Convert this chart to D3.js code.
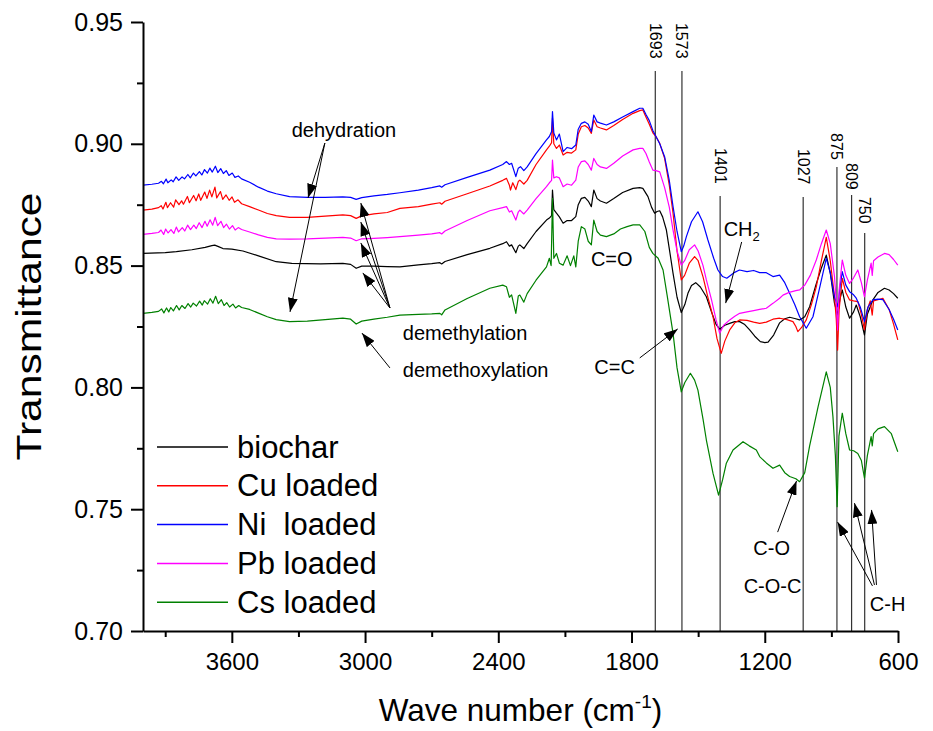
<!DOCTYPE html>
<html>
<head>
<meta charset="utf-8">
<script src="https://cdn.jsdelivr.net/npm/d3@7"></script>
<style>
  body { margin: 0; background: #fff; }
  svg text { font-family: "Liberation Sans", Arial, sans-serif; fill: #000; }
</style>
</head>
<body>
<script>
// ---- data: [wave number, transmittance] ----
const biochar = [[4000,0.8550],[3900,0.8553],[3850,0.8557],[3780,0.8565],[3720,0.8575],[3690,0.8582],[3677,0.8584],[3660,0.8578],[3640,0.8570],[3600,0.8568],[3550,0.8560],[3480,0.8540],[3400,0.8516],[3330,0.8509],[3200,0.8507],[3100,0.8509],[3065,0.8505],[3040,0.8489],[3015,0.8498],[2960,0.8498],[2900,0.8496],[2843,0.8495],[2760,0.8503],[2700,0.8508],[2663,0.8512],[2655,0.8507],[2640,0.8517],[2540,0.8545],[2438,0.8571],[2380,0.8590],[2363,0.8598],[2350,0.8580],[2340,0.8585],[2321,0.8553],[2310,0.8580],[2303,0.8585],[2285,0.8570],[2270,0.8590],[2230,0.8640],[2183,0.8687],[2170,0.8695],[2160,0.8705],[2156,0.8810],[2150,0.8730],[2138,0.8715],[2125,0.8700],[2108,0.8674],[2090,0.8685],[2070,0.8685],[2051,0.8701],[2040,0.8750],[2026,0.8776],[2010,0.8780],[1995,0.8765],[1981,0.8742],[1970,0.8810],[1955,0.8775],[1940,0.8765],[1913,0.8756],[1880,0.8775],[1840,0.8800],[1793,0.8817],[1763,0.8820],[1749,0.8817],[1726,0.8783],[1710,0.8740],[1696,0.8715],[1685,0.8722],[1673,0.8725],[1660,0.8700],[1643,0.8646],[1630,0.8570],[1613,0.8468],[1595,0.8370],[1576,0.8307],[1560,0.8340],[1546,0.8386],[1530,0.8418],[1511,0.8430],[1490,0.8412],[1463,0.8372],[1440,0.8310],[1420,0.8260],[1403,0.8239],[1380,0.8255],[1358,0.8263],[1335,0.8270],[1313,0.8270],[1290,0.8258],[1268,0.8236],[1245,0.8210],[1220,0.8188],[1200,0.8184],[1185,0.8186],[1160,0.8215],[1133,0.8265],[1110,0.8282],[1088,0.8288],[1065,0.8283],[1043,0.8277],[1020,0.8290],[998,0.8331],[970,0.8420],[945,0.8490],[923,0.8543],[905,0.8470],[886,0.8345],[872,0.8297],[862,0.8360],[851,0.8400],[835,0.8330],[818,0.8284],[800,0.8310],[788,0.8338],[770,0.8290],[751,0.8215],[738,0.8300],[713,0.8359],[690,0.8390],[661,0.8407],[640,0.8400],[620,0.8385],[601,0.8366]];

const cuLoaded = [[4000,0.8728],[3960,0.8732],[3930,0.8738],[3918,0.8746],[3910,0.8732],[3897,0.8760],[3890,0.8738],[3876,0.8758],[3862,0.8740],[3853,0.8770],[3838,0.8750],[3826,0.8766],[3818,0.8752],[3800,0.8784],[3791,0.8758],[3772,0.8788],[3761,0.8766],[3749,0.8794],[3740,0.8768],[3722,0.8802],[3712,0.8776],[3700,0.8810],[3690,0.8782],[3676,0.8822],[3668,0.8778],[3651,0.8804],[3641,0.8772],[3626,0.8790],[3612,0.8768],[3599,0.8782],[3588,0.8760],[3572,0.8770],[3556,0.8754],[3520,0.8742],[3480,0.8728],[3440,0.8714],[3400,0.8705],[3340,0.8698],[3260,0.8698],[3180,0.8703],[3100,0.8708],[3065,0.8705],[3040,0.8694],[3015,0.8704],[2960,0.8712],[2900,0.8718],[2843,0.8735],[2760,0.8742],[2700,0.8752],[2663,0.8758],[2655,0.8752],[2640,0.8764],[2540,0.8795],[2438,0.8827],[2380,0.8850],[2363,0.8858],[2350,0.8830],[2345,0.8810],[2335,0.8840],[2321,0.8812],[2310,0.8845],[2303,0.8851],[2285,0.8835],[2270,0.8850],[2230,0.8915],[2183,0.8975],[2170,0.8990],[2160,0.9005],[2156,0.9105],[2150,0.9000],[2138,0.8981],[2125,0.8995],[2108,0.8954],[2090,0.8965],[2070,0.8962],[2051,0.8975],[2040,0.9040],[2026,0.9070],[2010,0.9075],[1995,0.9065],[1981,0.9043],[1970,0.9098],[1955,0.9070],[1940,0.9065],[1913,0.9057],[1880,0.9075],[1840,0.9100],[1793,0.9125],[1763,0.9136],[1749,0.9139],[1735,0.9110],[1720,0.9080],[1704,0.9045],[1690,0.9030],[1673,0.9002],[1651,0.8940],[1630,0.8830],[1613,0.8715],[1595,0.8560],[1576,0.8441],[1561,0.8460],[1540,0.8510],[1516,0.8537],[1500,0.8520],[1478,0.8454],[1456,0.8370],[1433,0.8290],[1415,0.8200],[1396,0.8140],[1380,0.8190],[1358,0.8236],[1335,0.8265],[1313,0.8277],[1280,0.8275],[1250,0.8268],[1223,0.8263],[1193,0.8268],[1163,0.8280],[1133,0.8284],[1100,0.8278],[1073,0.8270],[1060,0.8250],[1051,0.8229],[1035,0.8245],[1013,0.8277],[990,0.8340],[968,0.8413],[945,0.8520],[923,0.8616],[905,0.8520],[886,0.8372],[878,0.8280],[872,0.8153],[865,0.8320],[851,0.8448],[835,0.8390],[818,0.8359],[800,0.8355],[781,0.8352],[765,0.8300],[751,0.8236],[738,0.8320],[725,0.8355],[716,0.8297],[710,0.8355],[690,0.8360],[668,0.8366],[640,0.8320],[620,0.8260],[601,0.8195]];

const niLoaded = [[4000,0.8830],[3960,0.8834],[3930,0.8838],[3917,0.8846],[3908,0.8836],[3896,0.8855],[3888,0.8840],[3873,0.8852],[3864,0.8844],[3851,0.8864],[3839,0.8850],[3824,0.8864],[3813,0.8856],[3798,0.8874],[3787,0.8860],[3773,0.8880],[3762,0.8868],[3746,0.8886],[3735,0.8872],[3723,0.8894],[3710,0.8880],[3699,0.8900],[3688,0.8884],[3674,0.8908],[3663,0.8882],[3650,0.8898],[3638,0.8878],[3625,0.8890],[3613,0.8870],[3598,0.8880],[3586,0.8862],[3571,0.8868],[3556,0.8856],[3520,0.8842],[3480,0.8822],[3440,0.8806],[3400,0.8795],[3340,0.8783],[3260,0.8780],[3180,0.8780],[3100,0.8782],[3065,0.8780],[3040,0.8772],[3015,0.8779],[2960,0.8786],[2900,0.8792],[2843,0.8799],[2760,0.8810],[2700,0.8820],[2663,0.8827],[2655,0.8822],[2640,0.8832],[2540,0.8862],[2438,0.8892],[2380,0.8915],[2363,0.8927],[2350,0.8915],[2340,0.8920],[2321,0.8865],[2310,0.8900],[2300,0.8906],[2285,0.8890],[2270,0.8905],[2230,0.8960],[2183,0.9016],[2170,0.9030],[2160,0.9050],[2156,0.9132],[2150,0.9045],[2138,0.9016],[2125,0.9040],[2108,0.8968],[2090,0.8985],[2070,0.8980],[2051,0.8995],[2040,0.9060],[2026,0.9084],[2010,0.9090],[1995,0.9080],[1981,0.9050],[1970,0.9118],[1955,0.9090],[1940,0.9085],[1913,0.9077],[1880,0.9090],[1840,0.9110],[1793,0.9132],[1763,0.9146],[1749,0.9146],[1735,0.9120],[1720,0.9095],[1704,0.9055],[1690,0.9030],[1673,0.9000],[1651,0.8947],[1630,0.8850],[1613,0.8742],[1595,0.8640],[1576,0.8557],[1565,0.8580],[1553,0.8619],[1530,0.8680],[1501,0.8721],[1480,0.8680],[1456,0.8605],[1430,0.8530],[1411,0.8482],[1390,0.8455],[1371,0.8448],[1340,0.8470],[1314,0.8482],[1280,0.8475],[1250,0.8480],[1223,0.8471],[1193,0.8471],[1163,0.8455],[1133,0.8461],[1110,0.8430],[1088,0.8386],[1065,0.8340],[1043,0.8290],[1013,0.8243],[983,0.8290],[955,0.8400],[923,0.8530],[905,0.8470],[886,0.8372],[871,0.8331],[860,0.8420],[851,0.8475],[835,0.8420],[818,0.8393],[800,0.8380],[788,0.8366],[770,0.8330],[751,0.8270],[735,0.8330],[713,0.8359],[690,0.8362],[668,0.8360],[640,0.8320],[620,0.8280],[601,0.8236]];

const pbLoaded = [[4000,0.8628],[3960,0.8632],[3930,0.8636],[3919,0.8646],[3907,0.8628],[3898,0.8650],[3887,0.8634],[3874,0.8648],[3861,0.8632],[3850,0.8658],[3840,0.8638],[3823,0.8656],[3812,0.8642],[3799,0.8666],[3786,0.8648],[3771,0.8666],[3760,0.8652],[3747,0.8676],[3734,0.8656],[3721,0.8682],[3711,0.8662],[3698,0.8688],[3686,0.8666],[3675,0.8698],[3664,0.8664],[3649,0.8682],[3637,0.8656],[3624,0.8670],[3611,0.8650],[3597,0.8664],[3585,0.8646],[3571,0.8656],[3556,0.8648],[3520,0.8638],[3480,0.8626],[3440,0.8616],[3400,0.8610],[3340,0.8609],[3260,0.8610],[3180,0.8613],[3100,0.8616],[3065,0.8613],[3040,0.8602],[3015,0.8610],[2960,0.8612],[2900,0.8615],[2843,0.8619],[2760,0.8625],[2700,0.8630],[2663,0.8635],[2655,0.8630],[2640,0.8642],[2540,0.8685],[2438,0.8725],[2380,0.8738],[2363,0.8742],[2350,0.8720],[2340,0.8725],[2321,0.8687],[2310,0.8720],[2303,0.8728],[2285,0.8712],[2270,0.8728],[2230,0.8775],[2183,0.8824],[2170,0.8840],[2160,0.8850],[2156,0.8933],[2150,0.8860],[2138,0.8865],[2125,0.8860],[2108,0.8824],[2090,0.8835],[2070,0.8830],[2051,0.8851],[2040,0.8905],[2026,0.8927],[2010,0.8930],[1995,0.8915],[1981,0.8892],[1970,0.8940],[1955,0.8915],[1940,0.8905],[1913,0.8899],[1880,0.8920],[1840,0.8950],[1793,0.8975],[1763,0.8981],[1749,0.8981],[1735,0.8960],[1720,0.8925],[1704,0.8892],[1690,0.8890],[1673,0.8885],[1651,0.8820],[1630,0.8740],[1613,0.8646],[1595,0.8560],[1576,0.8502],[1561,0.8520],[1540,0.8565],[1516,0.8585],[1500,0.8560],[1478,0.8500],[1463,0.8441],[1440,0.8360],[1420,0.8280],[1403,0.8222],[1385,0.8255],[1358,0.8277],[1335,0.8292],[1313,0.8304],[1280,0.8310],[1250,0.8315],[1223,0.8320],[1193,0.8325],[1163,0.8345],[1133,0.8366],[1118,0.8379],[1090,0.8390],[1060,0.8397],[1043,0.8400],[1020,0.8420],[995,0.8460],[968,0.8523],[945,0.8590],[923,0.8646],[905,0.8590],[886,0.8455],[878,0.8350],[872,0.8236],[865,0.8400],[851,0.8523],[835,0.8460],[818,0.8427],[800,0.8450],[781,0.8482],[765,0.8430],[751,0.8372],[738,0.8440],[721,0.8510],[716,0.8460],[710,0.8520],[690,0.8535],[661,0.8550],[640,0.8545],[620,0.8525],[601,0.8502]];

const csLoaded = [[4000,0.8304],[3960,0.8308],[3930,0.8312],[3916,0.8322],[3906,0.8306],[3894,0.8326],[3884,0.8310],[3875,0.8328],[3863,0.8314],[3849,0.8336],[3837,0.8318],[3825,0.8336],[3811,0.8324],[3797,0.8344],[3785,0.8330],[3774,0.8346],[3759,0.8334],[3745,0.8354],[3733,0.8338],[3724,0.8356],[3709,0.8342],[3697,0.8364],[3685,0.8346],[3673,0.8374],[3661,0.8344],[3647,0.8360],[3635,0.8336],[3623,0.8348],[3610,0.8330],[3595,0.8342],[3583,0.8326],[3569,0.8336],[3556,0.8328],[3520,0.8320],[3480,0.8305],[3440,0.8290],[3400,0.8278],[3340,0.8270],[3260,0.8272],[3180,0.8278],[3100,0.8284],[3065,0.8280],[3040,0.8260],[3015,0.8272],[2960,0.8280],[2900,0.8288],[2843,0.8297],[2760,0.8300],[2700,0.8302],[2663,0.8304],[2655,0.8298],[2640,0.8318],[2540,0.8365],[2438,0.8407],[2380,0.8420],[2363,0.8413],[2350,0.8370],[2340,0.8380],[2321,0.8304],[2310,0.8375],[2303,0.8379],[2285,0.8350],[2270,0.8385],[2230,0.8440],[2183,0.8495],[2170,0.8530],[2162,0.8500],[2156,0.8776],[2150,0.8530],[2138,0.8550],[2125,0.8510],[2108,0.8502],[2090,0.8540],[2075,0.8500],[2060,0.8540],[2051,0.8495],[2040,0.8600],[2026,0.8660],[2010,0.8650],[1995,0.8600],[1981,0.8585],[1970,0.8687],[1955,0.8640],[1940,0.8625],[1913,0.8619],[1880,0.8630],[1850,0.8650],[1820,0.8660],[1793,0.8667],[1763,0.8667],[1740,0.8640],[1720,0.8575],[1704,0.8550],[1680,0.8530],[1658,0.8482],[1640,0.8380],[1613,0.8222],[1595,0.8080],[1576,0.7982],[1560,0.8020],[1535,0.8058],[1516,0.8030],[1501,0.7989],[1478,0.7870],[1463,0.7784],[1433,0.7647],[1408,0.7558],[1390,0.7620],[1373,0.7689],[1343,0.7743],[1298,0.7777],[1270,0.7760],[1238,0.7743],[1223,0.7716],[1193,0.7690],[1163,0.7668],[1133,0.7681],[1110,0.7650],[1088,0.7634],[1060,0.7625],[1043,0.7613],[1020,0.7650],[998,0.7760],[960,0.7920],[923,0.8064],[905,0.8000],[893,0.7880],[882,0.7720],[874,0.7510],[866,0.7800],[851,0.7894],[835,0.7810],[818,0.7743],[800,0.7740],[781,0.7729],[765,0.7700],[751,0.7627],[738,0.7720],[721,0.7798],[716,0.7760],[710,0.7810],[690,0.7830],[661,0.7839],[630,0.7810],[601,0.7736]];

const seriesNames = ['biochar', 'Cu loaded', 'Ni  loaded', 'Pb loaded', 'Cs loaded'];
const seriesData = [biochar, cuLoaded, niLoaded, pbLoaded, csLoaded];
const seriesColors = ['#000000', '#ff0000', '#0000ff', '#ff00ff', '#008000'];

const xTicks = [3600, 3000, 2400, 1800, 1200, 600];
const xMinorTicks = [3900, 3300, 2700, 2100, 1500, 900];
const yTicks = [0.70, 0.75, 0.80, 0.85, 0.90, 0.95];
const yMinorTicks = [0.725, 0.775, 0.825, 0.875, 0.925];

// marked bands: wave number, top of line, top of rotated label
const bandWaves = [1693, 1573, 1401, 1027, 875, 809, 750];
const bandLineTops = [0.9299, 0.9299, 0.8786, 0.8782, 0.8905, 0.8790, 0.8634];
const bandLabelTops = [0.9496, 0.9496, 0.8983, 0.8979, 0.9044, 0.8921, 0.8782];

// text notes [wave, value], anchor
const notes = [
  {t: 'dehydration', at: [3095, 0.9028], anchor: 'middle'},
  {t: 'demethylation', at: [2830, 0.8195], anchor: 'start'},
  {t: 'demethoxylation', at: [2830, 0.8043], anchor: 'start'},
  {t: 'C=O', at: [1889, 0.8498], anchor: 'middle'},
  {t: 'C=C', at: [1876, 0.8055], anchor: 'middle'},
  {t: 'C-O', at: [1169, 0.7312], anchor: 'middle'},
  {t: 'C-O-C', at: [1165, 0.7156], anchor: 'middle'},
  {t: 'C-H', at: [647, 0.7082], anchor: 'middle'}
];
const ch2Note = [1385, 0.8621];

// arrows [from, to] in [wave, value]
const arrows = [
  [[3181, 0.9003], [3257, 0.8778]],
  [[3181, 0.9003], [3338, 0.8310]],
  [[2888, 0.8326], [3019, 0.8757]],
  [[2888, 0.8326], [3019, 0.8679]],
  [[2888, 0.8326], [3019, 0.8593]],
  [[2888, 0.8326], [3010, 0.8470]],
  [[2888, 0.8080], [3014, 0.8223]],
  [[1763, 0.8121], [1592, 0.8240]],
  [[1304, 0.8597], [1376, 0.8346]],
  [[1142, 0.7406], [1057, 0.7616]],
  [[715, 0.7185], [872, 0.7447]],
  [[706, 0.7189], [796, 0.7525]],
  [[697, 0.7189], [719, 0.7497]]
];

const W = 933, H = 731;
const svg = d3.select('body')
    .append('svg')
    .attr('width', W)
    .attr('height', H);

const x = d3.scaleLinear().domain([4000, 600]).range([143, 898]);
const y = d3.scaleLinear().domain([0.70, 0.95]).range([631, 22]);

svg.append('defs')
    .append('marker')
    .attr('id', 'head')
    .attr('markerUnits', 'userSpaceOnUse')
    .attr('markerWidth', 14)
    .attr('markerHeight', 10)
    .attr('refX', 14)
    .attr('refY', 5)
    .attr('orient', 'auto')
    .append('path')
    .attr('d', 'M0,0 L14,5 L0,10 Z')
    .attr('fill', '#000');

// band lines
svg.append('g').selectAll('line')
    .data(bandWaves)
    .enter()
    .append('line')
    .attr('x1', d => x(d))
    .attr('x2', d => x(d))
    .attr('y1', (d, i) => y(bandLineTops[i]))
    .attr('y2', y(0.70))
    .attr('stroke', '#333')
    .attr('stroke-width', 1.2);

svg.append('g').selectAll('text')
    .data(bandWaves)
    .enter()
    .append('text')
    .attr('transform', (d, i) => `translate(${x(d)},${y(bandLabelTops[i])}) rotate(90)`)
    .attr('dominant-baseline', 'central')
    .attr('font-size', 16)
    .text(d => d);

// spectra
const line = d3.line()
    .x(d => x(d[0]))
    .y(d => y(d[1]));

svg.append('g').selectAll('path')
    .data(seriesData)
    .enter()
    .append('path')
    .attr('d', line)
    .attr('fill', 'none')
    .attr('stroke', (d, i) => seriesColors[i])
    .attr('stroke-width', 1.2)
    .attr('stroke-linejoin', 'round');

// axes
svg.append('g')
    .attr('class', 'xaxis')
    .attr('transform', `translate(0,${y(0.70)})`)
    .call(d3.axisBottom(x).tickValues(xTicks).tickSize(12).tickSizeOuter(0).tickPadding(10).tickFormat(d3.format('d')));
svg.append('g')
    .attr('transform', `translate(0,${y(0.70)})`)
    .call(d3.axisBottom(x).tickValues(xMinorTicks).tickSize(6).tickFormat(''))
    .call(g => g.select('.domain').remove());

svg.append('g')
    .attr('class', 'yaxis')
    .attr('transform', `translate(${x(4000)},0)`)
    .call(d3.axisLeft(y).tickValues(yTicks).tickSize(12).tickSizeOuter(0).tickPadding(8).tickFormat(d3.format('.2f')));
svg.append('g')
    .attr('transform', `translate(${x(4000)},0)`)
    .call(d3.axisLeft(y).tickValues(yMinorTicks).tickSize(6).tickFormat(''))
    .call(g => g.select('.domain').remove());

svg.selectAll('.domain').attr('stroke', '#000').attr('stroke-width', 2);
svg.selectAll('.tick line').attr('stroke', '#000').attr('stroke-width', 2);
svg.selectAll('.tick text')
    .attr('font-family', '"Liberation Sans", Arial, sans-serif')
    .attr('font-size', 24)
    .attr('fill', '#000');
svg.selectAll('.yaxis .tick text').attr('font-size', 25);

// axis titles
svg.append('text')
    .attr('transform', `translate(41,${(y(0.70) + y(0.95)) / 2}) rotate(-90)`)
    .attr('text-anchor', 'middle')
    .attr('font-size', 35)
    .attr('textLength', 268)
    .attr('lengthAdjust', 'spacingAndGlyphs')
    .text('Transmittance');

const xt = svg.append('text')
    .attr('x', (x(4000) + x(600)) / 2)
    .attr('y', 721)
    .attr('text-anchor', 'middle')
    .attr('font-size', 31.5);
xt.append('tspan').text('Wave number (cm');
xt.append('tspan').attr('font-size', 19).attr('dy', -13).text('-1');
xt.append('tspan').attr('dy', 13).text(')');

// notes
svg.append('g').selectAll('text')
    .data(notes)
    .enter()
    .append('text')
    .attr('x', d => x(d.at[0]))
    .attr('y', d => y(d.at[1]))
    .attr('text-anchor', d => d.anchor)
    .attr('font-size', 20)
    .text(d => d.t);

const ch2 = svg.append('text')
    .attr('x', x(ch2Note[0]))
    .attr('y', y(ch2Note[1]))
    .attr('font-size', 20);
ch2.append('tspan').text('CH');
ch2.append('tspan').attr('font-size', 13).attr('dy', 5).text('2');

svg.append('g').selectAll('line')
    .data(arrows)
    .enter()
    .append('line')
    .attr('x1', d => x(d[0][0]))
    .attr('y1', d => y(d[0][1]))
    .attr('x2', d => x(d[1][0]))
    .attr('y2', d => y(d[1][1]))
    .attr('stroke', '#000')
    .attr('stroke-width', 1)
    .attr('marker-end', 'url(#head)');

// legend
const legend = svg.append('g').attr('transform', 'translate(157,447)');
const rows = legend.selectAll('g')
    .data(seriesNames)
    .enter()
    .append('g')
    .attr('transform', (d, i) => `translate(0,${i * 38.8})`);
rows.append('line')
    .attr('x1', 0)
    .attr('x2', 71)
    .attr('stroke', (d, i) => seriesColors[i])
    .attr('stroke-width', 1.5);
rows.append('text')
    .attr('x', 80)
    .attr('dominant-baseline', 'central')
    .attr('font-size', 31)
    .style('white-space', 'pre')
    .text(d => d);
</script>
</body>
</html>
